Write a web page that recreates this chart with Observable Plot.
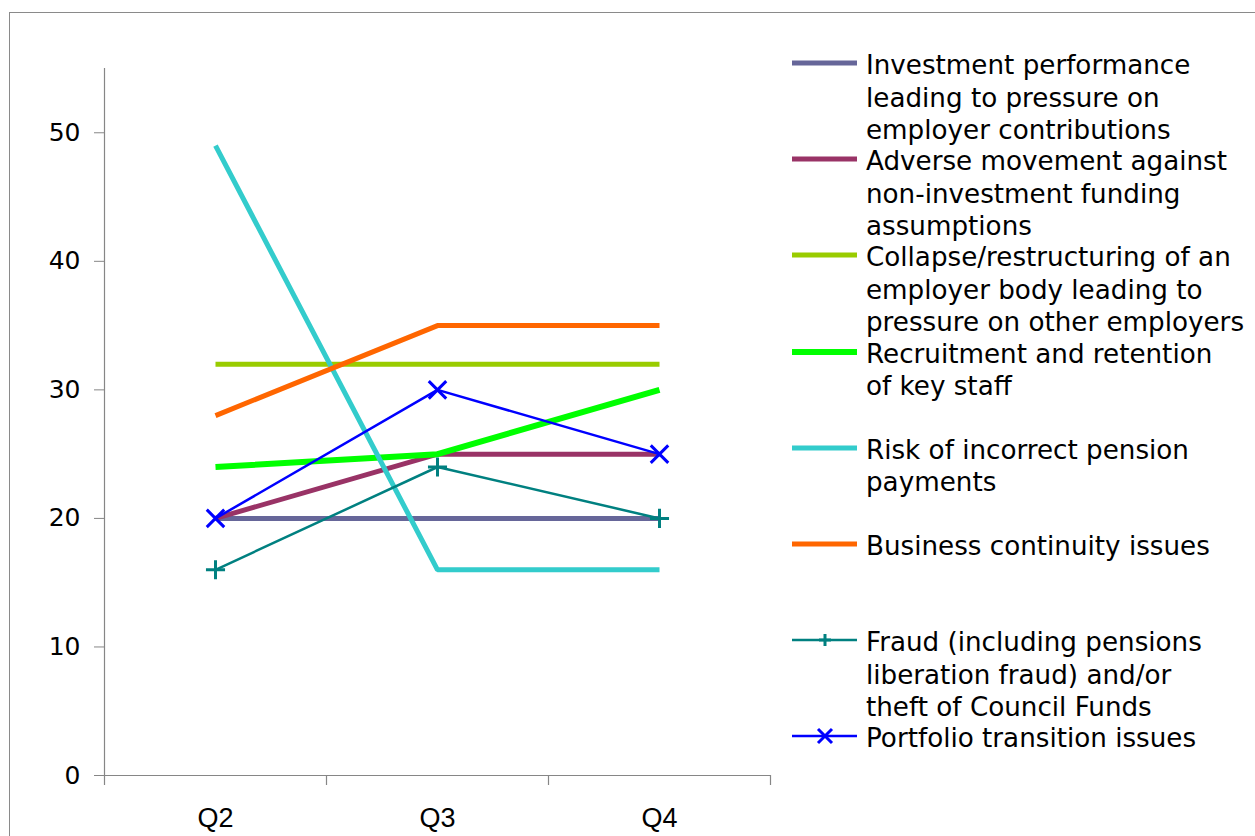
<!DOCTYPE html>
<html><head><meta charset="utf-8">
<script src="https://cdn.jsdelivr.net/npm/d3@7"></script>
<script src="https://cdn.jsdelivr.net/npm/@observablehq/plot@0.6"></script>
<style>
body{margin:0;background:#fff;}
#wrap{position:relative;width:1255px;height:836px;overflow:hidden;background:#fff;}
#frame{position:absolute;left:9px;top:12px;width:1400px;height:1000px;border-top:1.5px solid #8a8a8a;border-left:1.5px solid #8a8a8a;pointer-events:none;}
#chart{position:absolute;left:0;top:0;}
.entry{position:absolute;left:792px;width:460px;}
.entry svg{position:absolute;left:0;top:0;}
.entry .txt{position:absolute;left:74px;top:0;font-family:"DejaVu Sans",sans-serif;font-size:26.2px;line-height:32.5px;color:#000;white-space:nowrap;}
</style></head>
<body><div id="wrap"><div id="chart"></div><div id="legend"></div><div id="frame"></div></div>
<script>
// ---- data ----
const quarters = ["Q2", "Q3", "Q4"];
const yTicks = [0, 10, 20, 30, 40, 50];
const seriesNames = [
  "Investment performance\nleading to pressure on\nemployer contributions",
  "Adverse movement against\nnon-investment funding\nassumptions",
  "Collapse/restructuring of an\nemployer body leading to\npressure on other employers",
  "Recruitment and retention\nof key staff",
  "Risk of incorrect pension\npayments",
  "Business continuity issues",
  "Fraud (including pensions\nliberation fraud) and/or\ntheft of Council Funds",
  "Portfolio transition issues"
];
const investmentPerformance = [20, 20, 20];
const adverseMovement = [20, 25, 25];
const collapseRestructuring = [32, 32, 32];
const recruitmentRetention = [24, 25, 30];
const incorrectPayments = [49, 16, 16];
const businessContinuity = [28, 35, 35];
const fraud = [16, 24, 20];
const portfolioTransition = [20, 30, 25];
const seriesValues = [investmentPerformance, adverseMovement, collapseRestructuring, recruitmentRetention,
  incorrectPayments, businessContinuity, fraud, portfolioTransition];

// ---- styles ----
const seriesColors = ["#666699", "#993366", "#99CC00", "#00FF00", "#33CCCC", "#FF6600", "#008080", "#0000FF"];
const seriesWidths = [5, 5, 5, 6, 5, 5, 2.5, 2.5];
const seriesSymbols = [null, null, null, null, null, null, "plus", "times"];

const rows = [];
seriesNames.forEach((s, i) => quarters.forEach((q, j) => rows.push({series: s, quarter: q, value: seriesValues[i][j], idx: i})));

const W = 1255, H = 836;
const mL = 104, mR = 485, mT = 68, mB = 61;
const bw = (W - mL - mR) / quarters.length;
const axisGray = "#868686";

const marks = [
  Plot.ruleY([0], {stroke: axisGray, strokeWidth: 1.2}),
  Plot.ruleX(["Q2"], {dx: -bw / 2, stroke: axisGray, strokeWidth: 1.2}),
  Plot.ruleX(quarters, {x: d => d, y1: 0, y2: 0, dx: -bw / 2, insetBottom: -10, stroke: axisGray, strokeWidth: 1.2}),
  Plot.ruleX(["Q4"], {x: d => d, y1: 0, y2: 0, dx: bw / 2, insetBottom: -10, stroke: axisGray, strokeWidth: 1.2}),
  Plot.axisY({ticks: yTicks, tickSize: 10, tickPadding: 14, stroke: axisGray, fill: "#000", fontSize: 25, fontFamily: "DejaVu Sans", tickFormat: d => String(d), label: null}),
  Plot.axisX({tickSize: 0, tickPadding: 32, fill: "#000", fontSize: 27, fontFamily: "Liberation Sans", label: null})
];
seriesNames.forEach((s, i) => {
  const data = rows.filter(r => r.idx === i);
  marks.push(Plot.line(data, {x: "quarter", y: "value", stroke: seriesColors[i], strokeWidth: seriesWidths[i], strokeLinejoin: "miter", strokeLinecap: "butt"}));
  if (seriesSymbols[i]) {
    marks.push(Plot.dot(data, {x: "quarter", y: "value", symbol: seriesSymbols[i], r: seriesSymbols[i] === "plus" ? 6.2 : 8, stroke: seriesColors[i], strokeWidth: 3}));
  }
});

const chart = Plot.plot({
  width: W, height: H,
  marginLeft: mL, marginRight: mR, marginTop: mT, marginBottom: mB,
  x: {type: "band", domain: quarters, padding: 0, axis: null},
  y: {domain: [0, 55], axis: null},
  style: {background: "transparent", overflow: "visible"},
  marks
});
document.getElementById("chart").appendChild(chart);

// ---- legend ----
const legend = document.getElementById("legend");
const entryTop0 = 49, entryStep = 96.2;
seriesNames.forEach((s, i) => {
  const e = document.createElement("div");
  e.className = "entry";
  e.style.top = (entryTop0 + i * entryStep) + "px";
  const c = seriesColors[i];
  let sym = "";
  if (seriesSymbols[i] === "plus") sym = `<path d="M33,8L33,20M27,14L39,14" stroke="${c}" stroke-width="3" fill="none"/>`;
  if (seriesSymbols[i] === "times") sym = `<path d="M26,7L40,21M40,7L26,21" stroke="${c}" stroke-width="3" fill="none"/>`;
  e.innerHTML = `<svg width="70" height="34"><line x1="0" x2="65" y1="14" y2="14" stroke="${c}" stroke-width="${seriesWidths[i]}"/>${sym}</svg>` +
    `<div class="txt">${s.split("\n").join("<br>")}</div>`;
  legend.appendChild(e);
});
</script></body></html>
